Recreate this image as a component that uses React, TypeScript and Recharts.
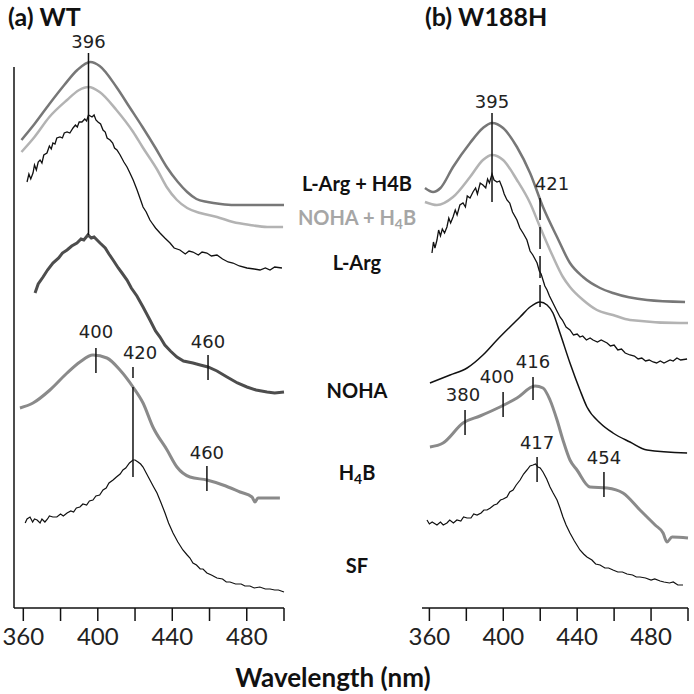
import React from 'react';
import { LineChart, Line, XAxis, YAxis, ReferenceLine, ReferenceDot } from 'recharts';

// wavelength (nm), absorbance (offset, a.u.)
const wtArgH4B = [[359, 46.8], [366, 48.4], [374, 50.4], [382, 52.3], [389, 53.8], [396, 54.6], [401, 54.2], [410, 52.1], [417, 50.1], [424, 48.1], [431, 46.0], [437, 44.1], [443, 42.6], [448, 41.6], [453, 40.9], [459, 40.6], [466, 40.4], [473, 40.3], [487, 40.3], [500, 40.3]];
const wtNohaH4B = [[359, 45.6], [366, 47.1], [374, 49.1], [383.5, 50.8], [390, 51.8], [395, 52.1], [401, 51.6], [410, 49.8], [419, 47.6], [424, 46.1], [432, 43.8], [437, 42.1], [442.5, 40.8], [448, 40.0], [455, 39.5], [464, 39.1], [472.6, 38.6], [481.7, 38.3], [491, 38.1], [499.5, 38.1]];
const wtArg = [[362, 42.6], [363, 43.4], [364, 42.9], [365.2, 43.5], [366, 44.3], [367, 43.8], [368, 44.6], [369, 44.8], [370, 44.5], [371, 45.3], [372.7, 45.5], [374, 46.2], [375, 45.9], [375.9, 46.5], [377, 46.4], [378, 47.0], [379.7, 47.1], [381, 47.0], [382, 47.5], [383.5, 47.6], [385, 47.5], [386.7, 48.0], [388, 48.3], [389, 48.1], [390, 48.6], [391.5, 48.6], [393, 48.9], [394, 48.7], [395, 49.3], [396.9, 49.1], [398, 49.3], [399, 48.8], [400.1, 48.6], [401.5, 48.4], [402.8, 47.8], [404, 47.6], [405, 47.0], [406.6, 46.8], [408, 46.5], [409, 46.0], [410.3, 45.8], [412, 45.3], [414, 44.6], [415.7, 44.1], [417, 43.6], [419, 42.8], [421.1, 41.8], [423, 40.8], [424.3, 40.1], [426, 39.6], [428, 38.8], [429.1, 38.5], [431, 38.0], [433.4, 37.5], [436, 37.0], [438.8, 36.5], [441, 36.0], [444.1, 35.8], [447, 35.4], [449, 35.7], [451.1, 35.6], [454, 35.3], [456, 35.6], [458.6, 35.5], [461, 35.2], [464, 35.3], [467, 34.9], [470, 34.6], [472.6, 34.5], [476, 34.2], [480.1, 34.0], [484, 33.9], [487.1, 33.8], [490, 34.0], [492.5, 33.8], [495, 34.1], [498.9, 34.0]];
const wtNoha = [[366.3, 31.5], [368, 32.4], [370.6, 33.1], [373, 33.8], [375.9, 34.5], [379, 35.0], [381, 35.5], [383.5, 35.8], [386, 36.2], [388.8, 36.5], [391, 36.9], [392.5, 36.8], [394.7, 37.3], [396.5, 37.0], [398, 37.1], [401.2, 36.5], [404, 36.0], [406, 35.4], [408.2, 34.8], [411, 34.0], [413, 33.5], [415.7, 32.8], [418, 32.0], [421, 31.2], [424.3, 30.1], [428, 28.8], [431, 27.7], [433.4, 27.1], [436, 26.3], [439, 25.7], [442.5, 25.1], [446, 24.7], [451.1, 24.5], [455, 24.3], [459.2, 24.1], [464, 23.7], [469.4, 23.1], [475, 22.5], [480.1, 22.1], [485, 21.8], [490.9, 21.6], [495, 21.5], [500, 21.6]];
const wtH4B = [[358.2, 20.0], [365.2, 20.5], [374.3, 21.8], [383.5, 23.5], [390.4, 24.6], [397.4, 25.3], [404.9, 25.0], [411.9, 23.8], [418.9, 22.1], [424.3, 20.5], [429.6, 18.1], [437.2, 15.8], [442.5, 14.1], [449.5, 13.1], [458.6, 12.8], [467.2, 12.3], [476.4, 11.6], [482.8, 11.1], [484.4, 10.6], [486, 11.0], [497.8, 11.0]];
const wtSF = [[361, 8.5], [362, 8.9], [363.6, 9.1], [365, 8.6], [366, 8.9], [367.4, 8.8], [369, 8.5], [370, 8.9], [371.6, 8.6], [373, 8.9], [374, 9.2], [375.9, 9.1], [378, 9.1], [380, 9.4], [381.5, 9.2], [383.5, 9.5], [385.5, 9.7], [387, 9.6], [388.5, 10.0], [390.4, 10.1], [392, 10.4], [394, 10.3], [395.5, 10.7], [397.4, 10.8], [399, 11.2], [401, 11.3], [402.8, 11.8], [404.5, 12.0], [406, 12.5], [408.2, 12.8], [410, 13.1], [412, 13.4], [413.5, 13.8], [415, 14.0], [417, 14.5], [418.9, 14.8], [420, 14.8], [421.6, 14.6], [423, 14.4], [424.3, 14.1], [426, 13.5], [428, 12.8], [430, 12.1], [431.8, 11.5], [434, 10.5], [436.1, 9.5], [438, 8.5], [440.4, 7.5], [443, 6.6], [445.7, 5.8], [448, 5.3], [449.5, 5.0], [451.1, 4.5], [453, 4.3], [455, 3.9], [456.5, 3.9], [458.6, 3.5], [461, 3.3], [464, 3.0], [467, 2.9], [469, 2.6], [471, 2.6], [474, 2.4], [477, 2.4], [479, 2.2], [481.7, 2.2], [484, 2.0], [487, 2.1], [490, 1.9], [492.5, 1.9], [495, 1.8], [497, 1.8], [500, 1.6]];

const mutArgH4B = [[357.6, 42.0], [362, 41.6], [366, 42.0], [372.8, 44.1], [382, 46.5], [389, 48.0], [393.9, 48.5], [399.9, 48.0], [407.4, 46.1], [414.5, 43.5], [421.5, 40.1], [429.1, 37.1], [436.1, 34.5], [443.2, 33.1], [452.4, 32.0], [459.4, 31.5], [477.8, 30.8], [498.4, 30.6]];
const mutNohaH4B = [[357.6, 40.6], [364.1, 40.3], [372.8, 41.1], [382, 43.1], [389, 44.8], [393.9, 45.3], [399.9, 44.8], [407.4, 42.8], [414.5, 40.5], [419.9, 38.1], [427, 35.1], [432.3, 33.1], [436.1, 32.1], [443.2, 30.8], [450.7, 29.8], [459.4, 29.3], [468.6, 28.8], [495.7, 28.5], [500, 28.5]];
const mutArg = [[361.4, 35.5], [362.2, 36.6], [363, 36.0], [364.1, 36.8], [365, 37.8], [366, 37.2], [367, 37.9], [368.2, 37.5], [369.5, 38.1], [370.5, 39.0], [371.5, 38.5], [372.8, 39.1], [374, 39.8], [375, 39.3], [376.5, 40.3], [378.2, 40.5], [379.5, 40.1], [380.5, 41.2], [382, 41.0], [383.6, 41.6], [385, 42.0], [386, 41.4], [387.5, 42.5], [389, 42.3], [390.5, 42.0], [391.5, 42.9], [392.5, 42.5], [393.9, 43.4], [395, 42.8], [396.6, 42.6], [398, 42.7], [399.5, 42.0], [400.5, 41.4], [402, 40.8], [403.5, 40.5], [405, 39.6], [407.4, 38.8], [409, 38.0], [411, 37.4], [412.8, 36.8], [414.5, 35.7], [416, 35.3], [418.3, 34.5], [419.5, 33.7], [420.5, 33.4], [421.5, 32.8], [422.5, 32.2], [423.7, 31.8], [425, 31.2], [426.9, 30.5], [428.5, 29.9], [430.7, 29.1], [432, 28.8], [434, 28.1], [436.1, 27.8], [438, 27.3], [440, 27.4], [441.5, 27.1], [443, 27.2], [445, 26.8], [447, 27.0], [448.6, 26.8], [451, 26.6], [453, 26.8], [456.2, 26.5], [458, 26.2], [460, 26.3], [462, 25.8], [464, 25.9], [466, 25.5], [468.6, 25.3], [471, 25.2], [473, 24.9], [475, 25.0], [477, 24.7], [479, 24.8], [481.1, 24.6], [483, 24.5], [485, 24.7], [487, 24.5], [490.3, 24.8], [492, 24.7], [494, 25.0], [496, 24.8], [499.5, 24.9]];
const mutNoha = [[360.3, 22.5], [371.2, 23.3], [380.4, 24.0], [389, 25.3], [396.6, 26.8], [403.6, 28.1], [409.1, 29.1], [414.5, 30.1], [419.9, 30.6], [423.7, 30.3], [426.9, 29.5], [430.7, 27.5], [436.1, 24.5], [441.5, 21.8], [445.3, 20.1], [452.4, 18.5], [459.4, 17.5], [468.6, 16.6], [477.8, 15.8], [499.5, 15.5]];
const mutH4B = [[360.3, 16.1], [367.4, 16.5], [378.2, 18.5], [387.4, 19.2], [398.2, 20.1], [407.4, 21.0], [417.2, 22.2], [421.5, 22.0], [425.3, 20.8], [429.1, 18.8], [432.3, 16.8], [436.1, 14.8], [439.9, 13.8], [446.9, 12.1], [456.2, 12.0], [464.8, 11.5], [474, 9.8], [482.2, 8.3], [486.5, 7.5], [488.6, 6.6], [491.4, 7.1], [500, 7.0]];
const mutSF = [[358.7, 8.8], [360, 8.4], [361.5, 8.6], [364.1, 8.3], [366, 8.6], [367.5, 8.3], [369.5, 8.5], [371, 8.8], [373, 8.5], [374.9, 8.8], [377, 8.7], [378.5, 9.1], [380.4, 9.0], [382.5, 9.0], [384, 9.4], [385.8, 9.3], [388, 9.5], [389.5, 9.8], [391.2, 9.8], [393, 10.0], [395, 10.3], [396.6, 10.4], [398.5, 10.8], [400, 10.9], [402, 11.1], [403.5, 11.6], [405.3, 11.8], [407, 12.3], [409.1, 12.8], [411, 13.4], [412.8, 13.8], [414.5, 14.2], [416.1, 14.3], [417.5, 14.4], [418.8, 14.1], [420, 14.0], [421.5, 13.6], [423.5, 12.9], [425.3, 12.1], [427, 11.5], [429.1, 10.8], [430.7, 10.0], [432.3, 9.1], [434, 8.3], [436.1, 7.5], [438.5, 6.7], [441.5, 5.8], [443.5, 5.4], [445.3, 5.1], [448, 4.8], [450, 4.4], [452.4, 4.3], [455, 4.0], [457, 4.0], [459.4, 3.8], [462, 3.6], [464.5, 3.6], [467, 3.4], [470, 3.3], [472, 3.1], [474, 3.1], [477, 3.0], [480, 2.8], [482, 2.9], [484.9, 2.7], [487, 2.6], [490, 2.5], [492, 2.6], [494.5, 2.3], [497.3, 2.3]];

// peak markers: [nm, from, to, label, labelNm, labelY, dashed]
const wtMarks: [number, number, number, string, number, number, boolean][] = [
  [395, 55.5, 37.3, '396', 395, 56.6, false],
  [399, 26.0, 23.5, '400', 399, 27.6, false],
  [418.9, 24.1, 23.0, '420', 422.7, 25.5, false],
  [459.2, 25.3, 22.8, '460', 459.2, 26.6, false],
  [458.6, 14.2, 11.7, '460', 458.6, 15.5, false],
];
const wtLongLine = [418.9, 22.1, 13.1];
const mutMarks: [number, number, number, string, number, number, boolean][] = [
  [393.9, 49.5, 40.6, '395', 393.9, 50.6, false],
  [419.9, 41.0, 29.6, '421', 426.4, 42.4, true],
  [379.3, 19.8, 17.3, '380', 378.2, 21.3, false],
  [399.9, 21.6, 19.1, '400', 396.6, 23.1, false],
  [416.1, 23.1, 20.8, '416', 416.1, 24.6, false],
  [418.3, 15.1, 12.6, '417', 418.3, 16.5, false],
  [454.5, 13.6, 11.1, '454', 454.5, 15.0, false],
];

const ticks = [360, 380, 400, 420, 440, 460, 480, 500];
const fmtTick = (v: number) => (v % 40 === 0 && v < 500 ? String(v) : '');

const toPts = (arr: number[][]) => arr.map(([x, y]) => ({ x, y }));

const labelFont = 'Lato, "Open Sans", sans-serif';

const Panel = ({ left, right, domain, series, marks, extra, yAxisLine }: any) => (
  <LineChart
    width={694}
    height={694}
    margin={{ top: 30, right, bottom: 56, left }}
    style={{ position: 'absolute', left: 0, top: 0 }}
  >
    <XAxis
      type="number"
      dataKey="x"
      domain={domain}
      ticks={ticks}
      tickFormatter={fmtTick}
      height={30}
      tickSize={13}
      tickMargin={7}
      axisLine={{ stroke: '#111', strokeWidth: 1.5 }}
      tickLine={{ stroke: '#111', strokeWidth: 1.5 }}
      tick={{ fontSize: 24, fill: '#222', fontFamily: labelFont }}
      interval={0}
    />
    <YAxis type="number" domain={[0, 57.8]} hide />
    {yAxisLine && (
      <ReferenceLine segment={[{ x: domain[0], y: 0 }, { x: domain[0], y: 54.1 }]} stroke="#111" strokeWidth={1.5} ifOverflow="visible" />
    )}
    {series.map((s: any, i: number) => (
      <Line
        key={i}
        data={toPts(s.data)}
        dataKey="y"
        type={s.type}
        stroke={s.color}
        strokeWidth={s.width}
        dot={false}
        isAnimationActive={false}
      />
    ))}
    {marks.map((m: any, i: number) => (
      <ReferenceLine
        key={'l' + i}
        segment={[{ x: m[0], y: m[1] }, { x: m[0], y: m[2] }]}
        stroke="#111"
        strokeWidth={1.5}
        strokeDasharray={m[6] ? '22 7' : undefined}
        ifOverflow="visible"
      />
    ))}
    {extra && (
      <ReferenceLine segment={[{ x: extra[0], y: extra[1] }, { x: extra[0], y: extra[2] }]} stroke="#111" strokeWidth={1.5} ifOverflow="visible" />
    )}
    {marks.map((m: any, i: number) => (
      <ReferenceDot
        key={'d' + i}
        x={m[4]}
        y={m[5]}
        r={1}
        fill="none"
        stroke="none"
        ifOverflow="visible"
        label={{ value: m[3], position: 'center', fontSize: 18, fill: '#222', fontFamily: '"DejaVu Sans", sans-serif' }}
      />
    ))}
  </LineChart>
);

const wtSeries = [
  { data: wtArgH4B, color: '#777777', width: 2.5, type: 'monotone' },
  { data: wtNohaH4B, color: '#b3b3b3', width: 2.5, type: 'monotone' },
  { data: wtArg, color: '#111111', width: 1.3, type: 'linear' },
  { data: wtNoha, color: '#4d4d4d', width: 3, type: 'linear' },
  { data: wtH4B, color: '#8a8a8a', width: 3, type: 'monotone' },
  { data: wtSF, color: '#111111', width: 1.2, type: 'linear' },
];
const mutSeries = [
  { data: mutArgH4B, color: '#777777', width: 2.5, type: 'monotone' },
  { data: mutNohaH4B, color: '#b3b3b3', width: 2.5, type: 'monotone' },
  { data: mutArg, color: '#111111', width: 1.3, type: 'linear' },
  { data: mutNoha, color: '#111111', width: 1.5, type: 'monotone' },
  { data: mutH4B, color: '#8a8a8a', width: 3, type: 'monotone' },
  { data: mutSF, color: '#111111', width: 1.2, type: 'linear' },
];

const Sub = ({ children }: any) => (
  <span style={{ fontSize: '0.7em', position: 'relative', top: '0.3em' }}>{children}</span>
);

const midLabel = (top: number, content: React.ReactNode, color = '#111') => (
  <div
    style={{
      position: 'absolute',
      left: 357,
      top,
      transform: 'translate(-50%, -50%)',
      fontFamily: labelFont,
      fontWeight: 700,
      fontSize: 20,
      lineHeight: 1,
      whiteSpace: 'nowrap',
      color,
    }}
  >
    {content}
  </div>
);

const titleStyle: React.CSSProperties = {
  position: 'absolute',
  top: 2,
  fontFamily: labelFont,
  fontWeight: 700,
  fontSize: 25,
  lineHeight: '28px',
  color: '#111',
  whiteSpace: 'nowrap',
};

export default function App() {
  return (
    <div style={{ position: 'absolute', left: 0, top: 0, width: 694, height: 694, background: '#fff', overflow: 'hidden' }}>
      <Panel left={14} right={410} domain={[355, 500]} series={wtSeries} marks={wtMarks} extra={wtLongLine} yAxisLine />
      <Panel left={422} right={6} domain={[356, 500]} series={mutSeries} marks={mutMarks} />
      <div style={{ ...titleStyle, left: 8 }}>(a) WT</div>
      <div style={{ ...titleStyle, left: 425 }}>(b) W188H</div>
      {midLabel(183, 'L-Arg + H4B')}
      {midLabel(217, <>NOHA + H<Sub>4</Sub>B</>, '#a6a6a6')}
      {midLabel(262, 'L-Arg')}
      {midLabel(390, 'NOHA')}
      {midLabel(472, <>H<Sub>4</Sub>B</>)}
      {midLabel(565, 'SF')}
      <div
        style={{
          position: 'absolute',
          left: 333,
          top: 677,
          transform: 'translate(-50%, -50%)',
          fontFamily: labelFont,
          fontWeight: 700,
          fontSize: 26,
          lineHeight: 1,
          whiteSpace: 'nowrap',
          color: '#111',
        }}
      >
        Wavelength (nm)
      </div>
    </div>
  );
}
